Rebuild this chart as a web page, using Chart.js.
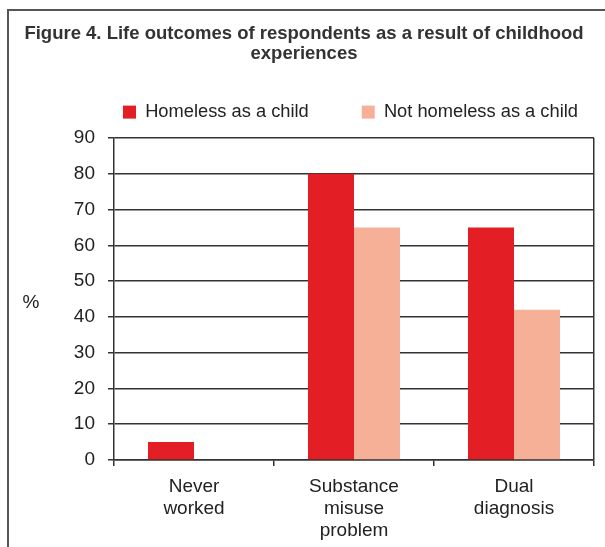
<!DOCTYPE html>
<html lang="en">

<head>
    <meta charset="UTF-8">
    <title>Figure 4</title>
    <script src="https://cdn.jsdelivr.net/npm/chart.js"></script>
    <style>
        body {
            margin: 0;
            background: #fff;
            font-family: "Liberation Sans", Arial, sans-serif;
        }

        .wrap {
            position: relative;
            width: 605px;
            height: 547px;
            overflow: hidden;
        }

        /* figure frame, only top and left edges show in the crop */
        .frame {
            position: absolute;
            left: 7px;
            top: 9px;
            width: 700px;
            height: 700px;
            border-left: 2px solid #555;
            border-top: 2px solid #555;
        }

        canvas {
            position: absolute;
            left: 0;
            top: 0;
        }
    </style>
</head>

<body>
    <div class="wrap">
        <div class="frame"></div>
        <canvas id="myChart" width="605" height="547"></canvas>
    </div>

    <script>
        const categories = [['Never', 'worked'], ['Substance', 'misuse', 'problem'], ['Dual', 'diagnosis']];
        const homeless = [5, 80, 65];
        const notHomeless = [null, 65, 42];
        const seriesNames = ['Homeless as a child', 'Not homeless as a child'];
        const yTicks = [0, 10, 20, 30, 40, 50, 60, 70, 80, 90];

        const FONT = '"Liberation Sans", Arial, sans-serif';
        const INK = '#222';
        const LEGEND_PAD = 53;

        // fix legend height so the plot starts where the original does
        const legendFit = {
            id: 'legendFit',
            beforeInit(chart) {
                const fit = chart.legend.fit;
                chart.legend.fit = function () {
                    fit.call(this);
                    this.height = 88;
                };
            },
            // legend sits over the plot, title a bit right of the canvas centre
            afterLayout(chart) {
                const lg = chart.legend;
                const lw = lg.lineWidths[0];
                lg.right = 720;
                lg.left = 2 * 123 - LEGEND_PAD + lw - lg.right;
                chart.titleBlock.left += 14;
            }
        };

        // the "%" label sits upright left of the axis
        const yLabel = {
            id: 'yLabel',
            afterDraw(chart) {
                const { ctx, chartArea } = chart;
                ctx.save();
                ctx.font = '19px ' + FONT;
                ctx.fillStyle = INK;
                ctx.textAlign = 'center';
                ctx.textBaseline = 'middle';
                ctx.fillText('%', 31, (chartArea.top + chartArea.bottom) / 2 + 4);
                ctx.restore();
            }
        };

        new Chart(document.getElementById('myChart'), {
            type: 'bar',
            data: {
                labels: categories,
                datasets: [{
                    label: seriesNames[0],
                    data: homeless,
                    backgroundColor: '#e31e25'
                }, {
                    label: seriesNames[1],
                    data: notHomeless,
                    backgroundColor: '#f5b097'
                }]
            },
            options: {
                responsive: false,
                animation: false,
                layout: {
                    padding: { left: 0, right: 11, top: 0, bottom: 0 }
                },
                datasets: {
                    bar: {
                        categoryPercentage: 0.575,
                        barPercentage: 1
                    }
                },
                scales: {
                    x: {
                        afterFit(scale) { scale.height = 87; },
                        grid: {
                            offset: true,
                            drawOnChartArea: true,
                            color: ctx => ctx.tick ? 'transparent' : '#333',
                            tickColor: '#333',
                            tickLength: 6,
                            lineWidth: 1.5
                        },
                        border: { color: '#333', width: 1.5 },
                        ticks: {
                            color: INK,
                            padding: 10,
                            maxRotation: 0,
                            font: { family: FONT, size: 19, lineHeight: 1.16 }
                        }
                    },
                    y: {
                        min: 0,
                        max: 90,
                        afterFit(scale) { scale.width = 114; },
                        afterBuildTicks(scale) { scale.ticks = yTicks.map(v => ({ value: v })); },
                        grid: {
                            color: '#333',
                            lineWidth: 1.5,
                            tickLength: 6
                        },
                        border: { color: '#333', width: 1.5 },
                        ticks: {
                            color: INK,
                            padding: 13,
                            font: { family: FONT, size: 19 }
                        }
                    }
                },
                plugins: {
                    title: {
                        display: true,
                        text: ['Figure 4. Life outcomes of respondents as a result of childhood', 'experiences'],
                        color: '#333',
                        font: { family: FONT, size: 18.5, weight: 'bold', lineHeight: 1.08 },
                        padding: { top: 24, bottom: -14 }
                    },
                    legend: {
                        labels: {
                            color: INK,
                            boxWidth: 13,
                            boxHeight: 13,
                            padding: LEGEND_PAD,
                            font: { family: FONT, size: 18.3 }
                        }
                    },
                    tooltip: { enabled: false }
                }
            },
            plugins: [legendFit, yLabel]
        });
    </script>
</body>

</html>
